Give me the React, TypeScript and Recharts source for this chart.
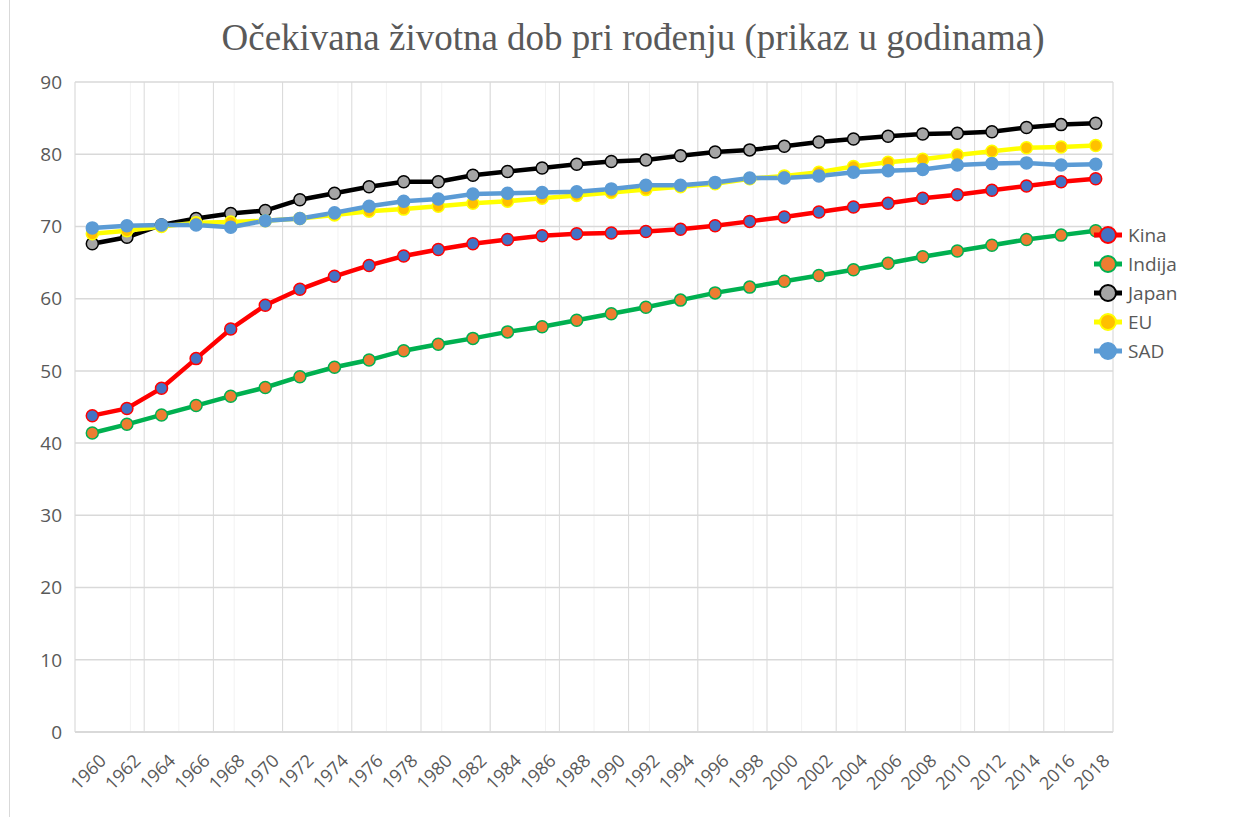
import React from 'react'
import { LineChart, Line, CartesianGrid, XAxis, YAxis, Legend } from 'recharts'

const years = [
  1960, 1962, 1964, 1966, 1968, 1970, 1972, 1974, 1976, 1978,
  1980, 1982, 1984, 1986, 1988, 1990, 1992, 1994, 1996, 1998,
  2000, 2002, 2004, 2006, 2008, 2010, 2012, 2014, 2016, 2018,
]

const kina = [
  43.8, 44.8, 47.6, 51.7, 55.8, 59.1, 61.3, 63.1, 64.6, 65.9,
  66.8, 67.6, 68.2, 68.7, 69.0, 69.1, 69.3, 69.6, 70.1, 70.7,
  71.3, 72.0, 72.7, 73.2, 73.9, 74.4, 75.0, 75.6, 76.2, 76.6,
]

const indija = [
  41.4, 42.6, 43.9, 45.2, 46.5, 47.7, 49.2, 50.5, 51.5, 52.8,
  53.7, 54.5, 55.4, 56.1, 57.0, 57.9, 58.8, 59.8, 60.8, 61.6,
  62.4, 63.2, 64.0, 64.9, 65.8, 66.6, 67.4, 68.2, 68.8, 69.4,
]

const japan = [
  67.6, 68.5, 70.2, 71.1, 71.8, 72.2, 73.7, 74.6, 75.5, 76.2,
  76.2, 77.1, 77.6, 78.1, 78.6, 79.0, 79.2, 79.8, 80.3, 80.6,
  81.1, 81.7, 82.1, 82.5, 82.8, 82.9, 83.1, 83.7, 84.1, 84.3,
]

const eu = [
  69.0, 69.4, 70.0, 70.5, 70.6, 70.8, 71.1, 71.6, 72.1, 72.4,
  72.8, 73.2, 73.5, 73.9, 74.3, 74.7, 75.1, 75.5, 75.9, 76.6,
  77.0, 77.5, 78.3, 78.9, 79.3, 79.9, 80.4, 80.9, 81.0, 81.2,
]

const sad = [
  69.8, 70.1, 70.2, 70.2, 69.9, 70.8, 71.1, 71.9, 72.8, 73.5,
  73.8, 74.5, 74.6, 74.7, 74.8, 75.2, 75.7, 75.7, 76.1, 76.7,
  76.7, 77.0, 77.5, 77.7, 77.9, 78.5, 78.7, 78.8, 78.5, 78.6,
]

const yTicks = [0, 10, 20, 30, 40, 50, 60, 70, 80, 90]

const series = [
  { key: 'kina', name: 'Kina', line: '#FF0000', fill: '#4472C4' },
  { key: 'indija', name: 'Indija', line: '#00B050', fill: '#ED7D31' },
  { key: 'japan', name: 'Japan', line: '#000000', fill: '#A5A5A5' },
  { key: 'eu', name: 'EU', line: '#FFFF00', fill: '#FFC000' },
  { key: 'sad', name: 'SAD', line: '#5B9BD5', fill: '#5B9BD5' },
]

const data = years.map((year, i) => ({
  year,
  kina: kina[i],
  indija: indija[i],
  japan: japan[i],
  eu: eu[i],
  sad: sad[i],
}))

// category boundaries (Excel draws gridlines between categories)
const majorGrid = [...years.map(y => y - 1), 2019]
const minorGrid: number[] = []
for (let i = 0; i <= 150; i++) minorGrid.push(1959 + i * 0.4)

const font = '"Open Sans", "Noto Sans", sans-serif'

const YearTick = (props: any) => {
  const { x, y, payload } = props
  const tx = x + 15
  const ty = y + 22
  return (
    <text x={tx} y={ty} transform={`rotate(-45, ${tx}, ${ty})`} textAnchor="end"
      fill="#595959" fontSize={18} fontFamily={font}>
      {payload.value}
    </text>
  )
}

const renderLegend = () => (
  <div style={{ fontFamily: font, fontSize: 19, color: '#595959' }}>
    {series.map(s => (
      <div key={s.key} style={{ display: 'flex', alignItems: 'center', height: 29 }}>
        <svg width={30} height={22}>
          <line x1={1} y1={11} x2={29} y2={11} stroke={s.line} strokeWidth={5} />
          <circle cx={15} cy={11} r={8} fill={s.fill} stroke={s.line} strokeWidth={2} />
        </svg>
        <span style={{ marginLeft: 5 }}>{s.name}</span>
      </div>
    ))}
  </div>
)

const App: React.FC = () => {
  return (
    <div style={{ position: 'absolute', left: 0, top: 0, width: 1244, height: 819, background: '#fff' }}>
      <div style={{ position: 'absolute', left: 9, top: 0, width: 1, height: 817, background: '#D9D9D9' }} />
      <div
        style={{
          position: 'absolute', left: 0, top: 16, width: 1266, textAlign: 'center',
          fontFamily: '"Liberation Serif", "DejaVu Serif", serif', fontSize: 37, color: '#595959',
        }}
      >
        Očekivana životna dob pri rođenju (prikaz u godinama)
      </div>
      <LineChart width={1244} height={819} data={data}
        margin={{ top: 82, right: 131, left: 0, bottom: 17 }}>
        <CartesianGrid xAxisId="minor" horizontal={false} stroke="#F2F2F2" strokeWidth={1} />
        <CartesianGrid xAxisId="major" horizontal={false} stroke="#D9D9D9" strokeWidth={1} />
        <CartesianGrid vertical={false} stroke="#D9D9D9" strokeWidth={1.5} />
        <XAxis xAxisId="minor" type="number" dataKey="year" domain={[1959, 2019]} ticks={minorGrid} hide />
        <XAxis xAxisId="major" type="number" dataKey="year" domain={[1959, 2019]} ticks={majorGrid} hide />
        <XAxis
          dataKey="year"
          type="number"
          domain={[1959, 2019]}
          ticks={years}
          interval={0}
          height={70}
          tickLine={false}
          axisLine={{ stroke: '#D9D9D9', strokeWidth: 2 }}
          tick={<YearTick />}
          tickMargin={2}
        />
        <YAxis
          domain={[0, 90]}
          ticks={yTicks}
          width={75}
          axisLine={false}
          tickLine={false}
          tickMargin={7}
          tick={{ fill: '#595959', fontSize: 19, fontFamily: font }}
        />
        <Legend
          content={renderLegend}
          align="center"
          verticalAlign="middle"
          layout="vertical"
          wrapperStyle={{ left: 1093, top: 220, width: 151 }}
        />
        {series.map(s => (
          <Line
            key={s.key}
            type="linear"
            dataKey={s.key}
            name={s.name}
            stroke={s.line}
            strokeWidth={4.5}
            dot={{ r: 6, fill: s.fill, stroke: s.line, strokeWidth: 1.5 }}
            activeDot={false}
            isAnimationActive={false}
          />
        ))}
      </LineChart>
    </div>
  )
}

export default App
